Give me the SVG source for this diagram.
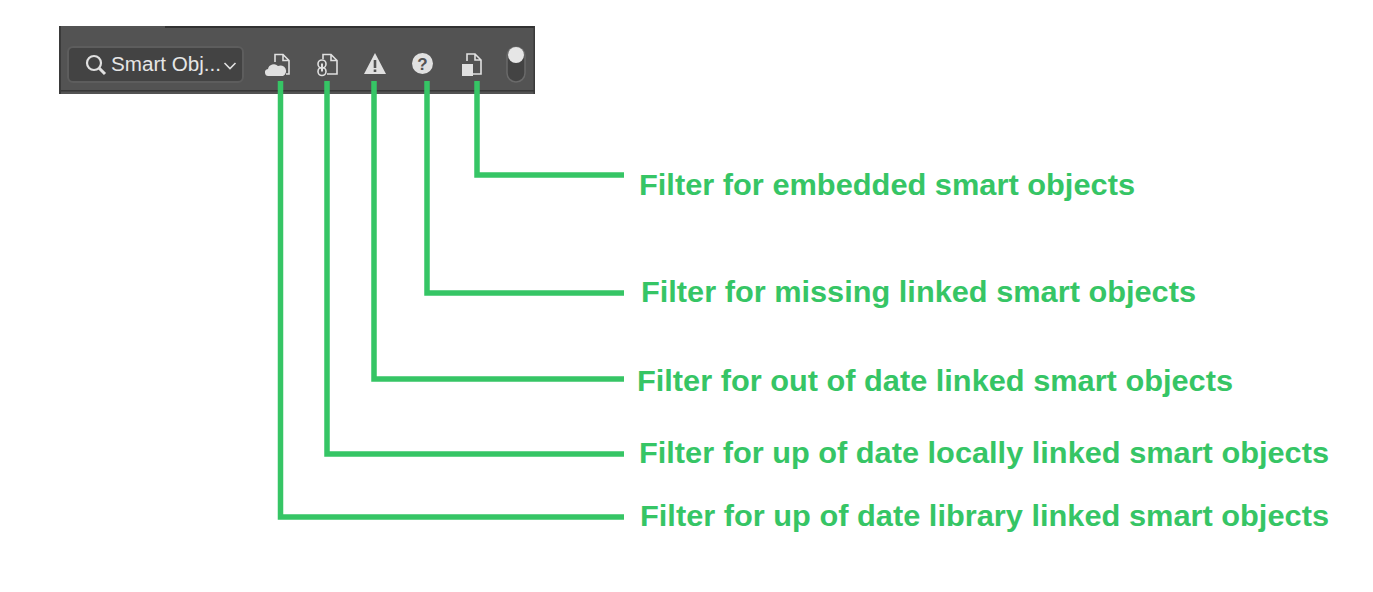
<svg xmlns="http://www.w3.org/2000/svg" width="1373" height="592" viewBox="0 0 1373 592">
<style>
.lab{font-family:"Liberation Sans",Arial,sans-serif;font-size:29px;font-weight:700;fill:#36c565}
.con{fill:none;stroke:#36c565;stroke-width:5.5}
.ic{fill:#e0e0e0}
.icl{fill:none;stroke:#e0e0e0;stroke-width:1.6}
</style>
<rect width="1373" height="592" fill="#fff"/>
<g id="toolbar">
<rect x="59" y="26" width="476" height="68" fill="#535353"/>
<rect x="165" y="26" width="370" height="2" fill="#323232"/>
<rect x="59" y="26" width="2" height="68" fill="#3a3a3a"/>
<rect x="533.500" y="26" width="1.500" height="68" fill="#3a3a3a"/>
<rect x="61" y="90" width="474" height="1.500" fill="#383838"/>
<rect x="68" y="47" width="175" height="35" rx="5" fill="#434343" stroke="#5d5d5d" stroke-width="2"/>
<circle cx="94" cy="63" r="7" fill="none" stroke="#e0e0e0" stroke-width="2.200"/>
<path d="M99 68l6 6" stroke="#e0e0e0" stroke-width="3" fill="none"/>
<text x="111" y="71" font-family="'Liberation Sans',sans-serif" font-size="20" fill="#e6e6e6" textLength="110" lengthAdjust="spacingAndGlyphs">Smart Obj...</text>
<path d="M224.500 63l5.500 5.500 5.500-5.500" stroke="#e0e0e0" stroke-width="1.600" fill="none"/>
</g>
<g id="icon-library">
<path class="icl" d="M275 62V54.500h8l6 6v13.500h-3M283 54.500v6h6"/>
<path class="ic" d="M269 76a3.500 3.500 0 0 1-1-7a6 6 0 0 1 10-3a5 5 0 0 1 5 10z"/>
</g>
<g id="icon-local">
<path class="icl" d="M323 59V54.500h8l6 6v13.500h-10M331 54.500v6h6"/>
<rect x="318" y="60" width="8" height="8" rx="4" class="icl"/>
<rect x="318" y="67.500" width="8" height="8" rx="4" class="icl"/>
<path d="M322 63.500v8" stroke="#e0e0e0" stroke-width="2"/>
</g>
<g id="icon-outdated">
<path class="ic" fill-rule="evenodd" d="M375 53l11 21h-22zM373.700 60v8h2.600v-8zM373.700 69.500v2.600h2.600v-2.600z"/>
</g>
<g id="icon-missing">
<circle class="ic" cx="422.500" cy="63.500" r="10.500"/>
<text x="422.500" y="70" text-anchor="middle" font-family="'Liberation Sans',sans-serif" font-size="17" font-weight="700" fill="#535353">?</text>
</g>
<g id="icon-embedded">
<path class="icl" d="M467 61V54h8l6 6v14h-8M475 54v6h6"/>
<rect class="ic" x="462" y="64" width="11" height="12"/>
</g>
<g id="toggle">
<rect x="507" y="47" width="18" height="35" rx="9" fill="#434343" stroke="#6a6a6a" stroke-width="1.500"/>
<circle cx="516" cy="55" r="8" fill="#e6e6e6"/>
</g>
<g id="connectors">
<path class="con" d="M280.500 81V517H624"/>
<path class="con" d="M327 81V454H624"/>
<path class="con" d="M374 81V379H624"/>
<path class="con" d="M427 81V293H624"/>
<path class="con" d="M477 81V175H624"/>
</g>
<g id="labels">
<text class="lab" x="639" y="195" textLength="496" lengthAdjust="spacingAndGlyphs">Filter for embedded smart objects</text>
<text class="lab" x="641" y="302" textLength="555" lengthAdjust="spacingAndGlyphs">Filter for missing linked smart objects</text>
<text class="lab" x="637" y="391" textLength="596" lengthAdjust="spacingAndGlyphs">Filter for out of date linked smart objects</text>
<text class="lab" x="639" y="463" textLength="690" lengthAdjust="spacingAndGlyphs">Filter for up of date locally linked smart objects</text>
<text class="lab" x="640" y="526" textLength="689" lengthAdjust="spacingAndGlyphs">Filter for up of date library linked smart objects</text>
</g>
</svg>
